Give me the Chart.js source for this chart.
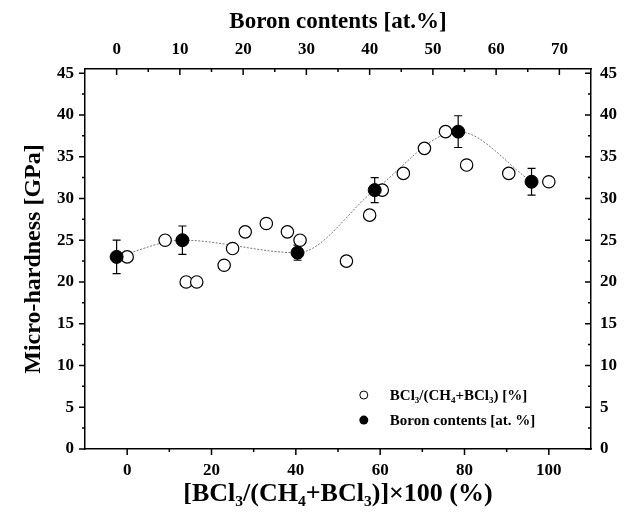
<!DOCTYPE html>
<html lang="en">
<head>
<meta charset="UTF-8">
<title>Micro-hardness</title>
<style>
  html, body { margin: 0; padding: 0; background: #fff; }
  #wrap { width: 632px; height: 515px; }
</style>
</head>
<body>
<div id="wrap"><canvas id="chart" width="632" height="515"></canvas></div>
<script src="https://cdn.jsdelivr.net/npm/chart.js"></script>
<script>
// open circles: BCl3/(CH4+BCl3) ratio [%] vs hardness [GPa]
const ratioX = [0, 9, 14, 16.5, 23, 25, 28, 33, 38, 41, 52, 57.5, 60.5, 65.5, 70.5, 75.5, 80.5, 90.5, 100];
const ratioY = [23, 25, 20, 20, 22, 24, 26, 27, 26, 25, 22.5, 28, 31, 33, 36, 38, 34, 33, 32];

// filled circles: boron contents [at.%] vs hardness, with error bars
const boronX = [0, 10.4, 28.6, 40.8, 54, 65.6];
const boronY = [23, 25, 23.5, 31, 38, 32];
const boronErr = [2, 1.7, 0.9, 1.5, 1.9, 1.6];

// tick values
const yTicks = [0, 5, 10, 15, 20, 25, 30, 35, 40, 45];
const yMinor = [2.5, 7.5, 12.5, 17.5, 22.5, 27.5, 32.5, 37.5, 42.5];
const bottomTicks = [0, 20, 40, 60, 80, 100];
const bottomMinor = [10, 30, 50, 70, 90];
const topTicks = [0, 10, 20, 30, 40, 50, 60, 70];
const topMinor = [5, 15, 25, 35, 45, 55, 65];

const serif = "'Liberation Serif', 'Times New Roman', serif";
const tickFont = { family: serif, size: 17, weight: 'bold' };

function fixTicks(values) {
    return (scale) => { scale.ticks = values.map(v => ({ value: v })); };
}

// tick marks, error bars and legend are drawn here
const decor = {
    id: 'decor',
    beforeDatasetsDraw(chart) {
        const ctx = chart.ctx;
        const xs = chart.scales.x2, ys = chart.scales.y;
        ctx.save();
        ctx.strokeStyle = '#000';
        ctx.lineWidth = 1.2;
        boronX.forEach((bx, i) => {
            const px = xs.getPixelForValue(bx);
            const top = ys.getPixelForValue(boronY[i] + boronErr[i]);
            const bot = ys.getPixelForValue(boronY[i] - boronErr[i]);
            ctx.beginPath();
            ctx.moveTo(px, top); ctx.lineTo(px, bot);
            ctx.moveTo(px - 4, top); ctx.lineTo(px + 4, top);
            ctx.moveTo(px - 4, bot); ctx.lineTo(px + 4, bot);
            ctx.stroke();
        });
        ctx.restore();
    },
    afterDraw(chart) {
        const ctx = chart.ctx;
        const { x, x2, y } = chart.scales;
        const area = chart.chartArea;
        ctx.save();
        ctx.strokeStyle = '#000';
        ctx.lineWidth = 1.5;

        const vTick = (v, len) => {
            const py = y.getPixelForValue(v);
            ctx.beginPath();
            ctx.moveTo(area.left - len, py); ctx.lineTo(area.left, py);
            ctx.moveTo(area.right - len, py); ctx.lineTo(area.right, py);
            ctx.stroke();
        };
        yTicks.forEach(v => vTick(v, 6));
        yMinor.forEach(v => vTick(v, 3));

        const bTick = (v, len) => {
            const px = x.getPixelForValue(v);
            ctx.beginPath();
            ctx.moveTo(px, area.bottom); ctx.lineTo(px, area.bottom + len);
            ctx.stroke();
        };
        bottomTicks.forEach(v => bTick(v, 6));
        bottomMinor.forEach(v => bTick(v, 3));

        const tTick = (v, len) => {
            const px = x2.getPixelForValue(v);
            ctx.beginPath();
            ctx.moveTo(px, area.top); ctx.lineTo(px, area.top + len);
            ctx.stroke();
        };
        topTicks.forEach(v => tTick(v, 6));
        topMinor.forEach(v => tTick(v, 3));

        // legend
        const lx = area.left + area.width * 0.551;
        const ly1 = area.top + area.height * 0.858;
        const ly2 = area.top + area.height * 0.924;
        ctx.lineWidth = 1;
        ctx.beginPath();
        ctx.arc(lx, ly1, 4, 0, Math.PI * 2);
        ctx.fillStyle = '#fff';
        ctx.fill();
        ctx.stroke();
        ctx.beginPath();
        ctx.arc(lx, ly2, 4.5, 0, Math.PI * 2);
        ctx.fillStyle = '#000';
        ctx.fill();
        ctx.font = "bold 15px " + serif;
        ctx.textBaseline = 'middle';
        ctx.fillText('BCl\u2083/(CH\u2084+BCl\u2083) [%]', lx + 26, ly1 + 1);
        ctx.fillText('Boron contents [at. %]', lx + 26, ly2 + 1);
        ctx.restore();
    }
};

const openPts = ratioX.map((v, i) => ({ x: v, y: ratioY[i] }));
const filledPts = boronX.map((v, i) => ({ x: v, y: boronY[i] }));

new Chart(document.getElementById('chart'), {
    type: 'scatter',
    data: {
        datasets: [
            {
                label: 'Boron contents [at. %]',
                data: filledPts,
                xAxisID: 'x2', yAxisID: 'y',
                pointRadius: 6.5,
                pointBackgroundColor: '#000',
                pointBorderColor: '#000',
                order: 0
            },
            {
                label: 'BCl3/(CH4+BCl3) [%]',
                data: openPts,
                xAxisID: 'x', yAxisID: 'y',
                pointRadius: 6.2,
                pointBorderWidth: 1.2,
                pointBackgroundColor: '#fff',
                pointBorderColor: '#000',
                order: 1
            },
            {
                label: 'fit',
                data: filledPts,
                xAxisID: 'x2', yAxisID: 'y',
                showLine: true,
                pointRadius: 0,
                borderColor: '#777',
                borderWidth: 1,
                borderDash: [2, 1.5],
                cubicInterpolationMode: 'monotone',
                order: 2
            }
        ]
    },
    options: {
        responsive: false,
        animation: false,
        devicePixelRatio: 1,
        layout: { padding: 0 },
        plugins: {
            legend: { display: false },
            tooltip: { enabled: false }
        },
        scales: {
            x: {
                type: 'linear', position: 'bottom', min: -10, max: 110,
                afterBuildTicks: fixTicks(bottomTicks),
                afterFit: (s) => { s.height = 66; },
                grid: { display: false, drawTicks: false },
                border: { color: '#000', width: 1.5 },
                ticks: { font: tickFont, color: '#000', padding: 11 },
                title: {
                    display: true, text: '[BCl\u2083/(CH\u2084+BCl\u2083)]\u00d7100 (%)', color: '#000',
                    font: { family: serif, size: 26, weight: 'bold' },
                    padding: { top: 0, bottom: 5 }
                }
            },
            x2: {
                type: 'linear', position: 'top', min: -5, max: 75,
                afterBuildTicks: fixTicks(topTicks),
                afterFit: (s) => { s.height = 69; },
                grid: { display: false, drawTicks: false },
                border: { color: '#000', width: 1.5 },
                ticks: { font: tickFont, color: '#000', padding: 9 },
                title: {
                    display: true, text: 'Boron contents [at.%]', color: '#000',
                    font: { family: serif, size: 23, weight: 'bold' },
                    padding: { top: 8, bottom: 0 }
                }
            },
            y: {
                position: 'left', min: 0, max: 45.5,
                afterBuildTicks: fixTicks(yTicks),
                afterFit: (s) => { s.width = 85; },
                grid: { display: false, drawTicks: false },
                border: { color: '#000', width: 1.5 },
                ticks: { font: tickFont, color: '#000', padding: 11 },
                title: {
                    display: true, text: 'Micro-hardness [GPa]', color: '#000',
                    font: { family: serif, size: 24, weight: 'bold' },
                    padding: { top: 19, bottom: 0 }
                }
            },
            y2: {
                position: 'right', min: 0, max: 45.5,
                afterBuildTicks: fixTicks(yTicks),
                afterFit: (s) => { s.width = 41; },
                grid: { display: false, drawTicks: false },
                border: { color: '#000', width: 1.5 },
                ticks: { font: tickFont, color: '#000', padding: 9 }
            }
        }
    },
    plugins: [decor]
});
</script>
</body>
</html>
